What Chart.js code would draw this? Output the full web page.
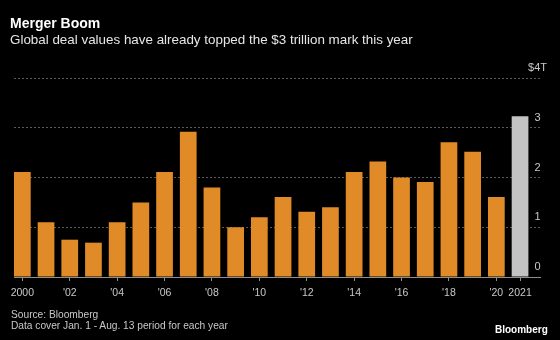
<!DOCTYPE html>
<html>
<head>
<meta charset="utf-8">
<script src="https://cdn.jsdelivr.net/npm/chart.js@4.4.1/dist/chart.umd.min.js"></script>
<style>
  html, body { margin: 0; padding: 0; background: #000; }
  body { width: 560px; height: 340px; position: relative; overflow: hidden;
         font-family: "Liberation Sans", Arial, sans-serif; }
  .txt { position: absolute; white-space: nowrap; line-height: 1; }
  #title { left: 10px; top: 16px; font-size: 14px; font-weight: bold; color: #fff; }
  #subtitle { left: 10px; top: 33px; font-size: 13.4px; color: #e6e6e6; }
  #source { left: 11px; top: 310px; font-size: 10.2px; color: #c8c8c8; }
  #note { left: 11px; top: 321px; font-size: 10.2px; color: #c8c8c8; }
  #brand { left: 495px; top: 325px; font-size: 10px; font-weight: bold; color: #fff; }
  #wrap { position: absolute; left: 0; top: 0; width: 560px; height: 340px; }
</style>
</head>
<body>
<div id="wrap"><canvas id="chart"></canvas></div>
<div id="title" class="txt">Merger Boom</div>
<div id="subtitle" class="txt">Global deal values have already topped the $3 trillion mark this year</div>
<div id="source" class="txt">Source: Bloomberg</div>
<div id="note" class="txt">Data cover Jan. 1 - Aug. 13 period for each year</div>
<div id="brand" class="txt">Bloomberg</div>
<script>
// Global M&A deal value, Jan. 1 - Aug. 13 of each year, in trillions of dollars
const years = [2000, 2001, 2002, 2003, 2004, 2005, 2006, 2007, 2008, 2009, 2010,
               2011, 2012, 2013, 2014, 2015, 2016, 2017, 2018, 2019, 2020, 2021];
const dealValues = [2.11, 1.10, 0.75, 0.69, 1.10, 1.50, 2.11, 2.92, 1.80, 1.00, 1.20,
                    1.61, 1.31, 1.40, 2.11, 2.32, 2.00, 1.91, 2.71, 2.52, 1.61, 3.23];
const labelledYears = [2000, 2002, 2004, 2006, 2008, 2010, 2012, 2014, 2016, 2018, 2020, 2021];
const valueTicks = [0, 1, 2, 3, 4];
const currentYear = 2021;

const ORANGE = '#e08b27';
const GREY = '#c3c3c3';
const LABEL = '#c8c8c8';
const FONT = '"Liberation Sans", Arial, sans-serif';

function yearLabel(v) {
  return (v === years[0] || v === currentYear) ? String(v) : "'" + String(v).slice(2);
}

new Chart(document.getElementById('chart'), {
  type: 'bar',
  data: {
    datasets: [{
      data: years.map((y, i) => ({ x: y, y: dealValues[i] })),
      backgroundColor: ctx => (years[ctx.dataIndex] === currentYear ? GREY : ORANGE),
      borderWidth: 0,
      categoryPercentage: 1,
      barPercentage: 0.705
    }]
  },
  options: {
    responsive: true,
    maintainAspectRatio: false,
    animation: false,
    devicePixelRatio: 1,
    layout: { padding: { top: 78, left: 14, right: 0, bottom: 33 } },
    plugins: { legend: { display: false }, tooltip: { enabled: false }, title: { display: false } },
    scales: {
      x: {
        type: 'linear',
        offset: false,
        min: 1999.648,
        max: 2021.842,
        afterBuildTicks: scale => { scale.ticks = labelledYears.map(v => ({ value: v })); },
        afterFit: scale => { scale.height = 30; },
        grid: { drawOnChartArea: false, drawTicks: true, tickLength: 4, tickColor: '#8f8f8f', offset: false },
        border: { display: true, color: '#8f8f8f', width: 1 },
        ticks: {
          autoSkip: false, maxRotation: 0, padding: 6,
          color: LABEL, font: { family: FONT, size: 10.5 },
          callback: v => yearLabel(v)
        }
      },
      y: {
        position: 'right',
        min: 0,
        max: 4,
        afterBuildTicks: scale => { scale.ticks = valueTicks.map(v => ({ value: v })); },
        afterFit: scale => { scale.width = 20; },
        grid: {
          drawTicks: false,
          color: ctx => (ctx.tick && ctx.tick.value === 0 ? 'rgba(0,0,0,0)' : '#5a5a5a')
        },
        border: { display: false, dash: [2, 2] },
        ticks: {
          mirror: true, crossAlign: 'center', padding: 7, labelOffset: -10,
          color: LABEL, font: { family: FONT, size: 11 },
          callback: v => (v === valueTicks[valueTicks.length - 1] ? '$' + v + 'T' : String(v))
        }
      }
    }
  }
});
</script>
</body>
</html>
